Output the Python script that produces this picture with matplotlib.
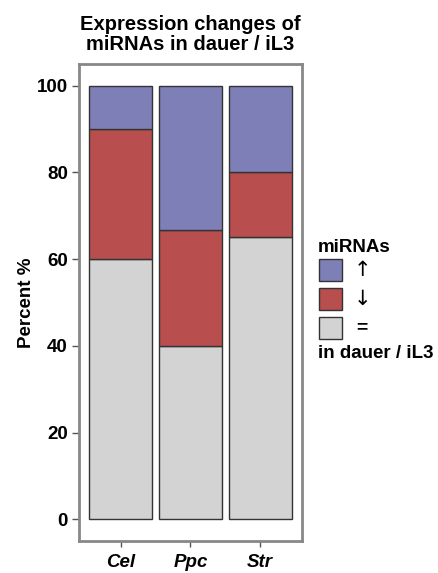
import matplotlib.pyplot as plt
from matplotlib.patches import Rectangle

# ---------- Data ----------
species = ["Cel", "Ppc", "Str"]
unchanged = [60, 40, 65]
down = [30, 26.7, 15]
up = [10, 33.3, 20]
legend_symbols = ["\u2191", "\u2193", "="]

blue = "#7f7fb8"
red = "#b84e4e"
grey = "#d3d3d3"

plt.rcParams["font.family"] = ["Liberation Sans", "DejaVu Sans"]
plt.rcParams["font.weight"] = "bold"

W, H = 439, 573
fig = plt.figure(figsize=(W / 100, H / 100), dpi=100)
ax = fig.add_axes([79 / W, 1 - 541 / H, 223 / W, 477 / H])

x = range(len(species))
bottom2 = [a + b for a, b in zip(unchanged, down)]
ax.bar(x, unchanged, width=0.9, color=grey, edgecolor="#333333", linewidth=1)
ax.bar(x, down, width=0.9, bottom=unchanged, color=red, edgecolor="#333333", linewidth=1)
ax.bar(x, up, width=0.9, bottom=bottom2, color=blue, edgecolor="#333333", linewidth=1)

ax.set_xlim(-0.6, 2.6)
ax.set_ylim(-5, 105)
ax.set_yticks([0, 20, 40, 60, 80, 100])
ax.set_xticks(list(x))
ax.set_xticklabels(species, fontstyle="italic", fontweight="bold", fontsize=13.5)
ax.tick_params(axis="y", labelsize=13.5, length=5, color="#555555", width=1, pad=3)
ax.tick_params(axis="x", length=4, color="#555555", width=1, pad=5.5)
for s in ax.spines.values():
    s.set_color("#888888")
    s.set_linewidth(2)

ax.set_ylabel("Percent %", fontsize=13.5, fontweight="bold", labelpad=1.5)
ax.set_title("Expression changes of\nmiRNAs in dauer / iL3", fontsize=14.5,
             fontweight="bold", pad=10, linespacing=1.1)

# ---------- Legend (drawn by hand) ----------
def fy(py):
    return 1 - py / H

fig.text(318 / W, fy(247), "miRNAs", fontsize=13.5, fontweight="bold", va="center")
box_tops = [259, 288, 317]
for top, col, sym in zip(box_tops, [blue, red, grey], legend_symbols):
    fig.patches.append(Rectangle((319 / W, fy(top + 22)), 23 / W, 22 / H,
                                 transform=fig.transFigure, facecolor=col,
                                 edgecolor="#333333", linewidth=1))
    if sym == "=":
        fig.text(362 / W, fy(top + 11), sym, fontsize=14, fontweight="bold",
                 ha="center", va="center")
    else:
        fig.text(362 / W, fy(top + 11), sym, fontsize=15, fontweight="normal",
                 ha="center", va="center", family=["DejaVu Sans"])
fig.text(318 / W, fy(354), "in dauer / iL3", fontsize=13.5, fontweight="bold", va="center")

fig.savefig("out.png", dpi=100)
